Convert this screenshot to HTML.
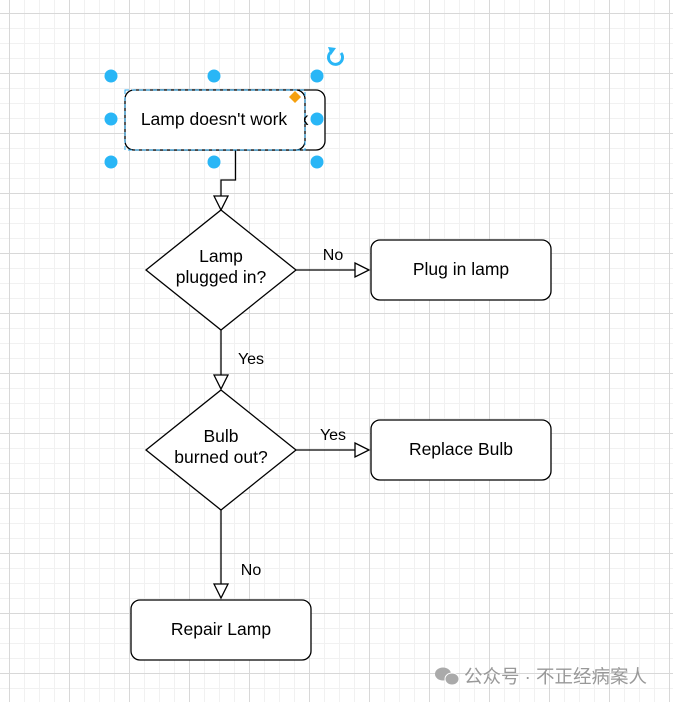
<!DOCTYPE html>
<html><head><meta charset="utf-8"><style>
html,body{margin:0;padding:0;background:#fff;}
svg{display:block;font-family:"Liberation Sans","Noto Sans CJK SC",sans-serif;}
</style></head><body>
<svg width="673" height="702" viewBox="0 0 673 702" xmlns="http://www.w3.org/2000/svg">
<defs>
<pattern id="minor" x="9" y="13" width="15" height="15" patternUnits="userSpaceOnUse">
<path d="M0 0.5H15M0.5 0V15" stroke="#f1f1f1" stroke-width="1" fill="none"/>
</pattern>
<pattern id="major" x="9" y="13" width="60" height="60" patternUnits="userSpaceOnUse">
<path d="M0 0.5H60M0.5 0V60" stroke="#d8d8d8" stroke-width="1" fill="none"/>
</pattern>
</defs>
<rect width="673" height="702" fill="url(#minor)"/>
<rect width="673" height="702" fill="url(#major)"/>
<g stroke="#000" stroke-width="1.3" fill="#fff">
<rect x="145" y="90" width="180" height="60" rx="9"/>
<rect x="125" y="90" width="180" height="60" rx="9"/>
<path d="M235.5 150V180H221V196" fill="none"/>
<path d="M221 330V375" fill="none"/>
<path d="M221 510V584" fill="none"/>
<path d="M296 270H355" fill="none"/>
<path d="M296 450H355" fill="none"/>
<path d="M214 196L221 210L228 196Z"/>
<path d="M214 375L221 389L228 375Z"/>
<path d="M214 584L221 598L228 584Z"/>
<path d="M355 263L369 270L355 277Z"/>
<path d="M355 443L369 450L355 457Z"/>
<path d="M221 210L296 270L221 330L146 270Z"/>
<path d="M221 390L296 450L221 510L146 450Z"/>
<rect x="371" y="240" width="180" height="60" rx="9"/>
<rect x="371" y="420" width="180" height="60" rx="9"/>
<rect x="131" y="600" width="180" height="60" rx="9"/>
</g>
<rect x="125" y="90" width="180" height="60" fill="none" stroke="#29a8ef" stroke-width="1" stroke-dasharray="4 3"/>
<g fill="#000" font-size="17.5" text-anchor="middle">
<text x="304" y="125">k</text>
<rect x="288" y="100" width="16" height="40" fill="#fff"/>
<text x="214" y="125">Lamp doesn't work</text>
<text x="221" y="262">Lamp</text>
<text x="221" y="283">plugged in?</text>
<text x="221" y="442">Bulb</text>
<text x="221" y="463">burned out?</text>
<text x="461" y="275">Plug in lamp</text>
<text x="461" y="455">Replace Bulb</text>
<text x="221" y="635">Repair Lamp</text>
<text x="333" y="260" font-size="16">No</text>
<text x="333" y="440" font-size="16">Yes</text>
<text x="251" y="364" font-size="16">Yes</text>
<text x="251" y="575" font-size="16">No</text>
</g>
<path d="M295 91L301 97L295 103L289 97Z" fill="#f5a00f"/>
<g fill="#29b6f6">
<circle cx="111" cy="76" r="6.5"/><circle cx="214" cy="76" r="6.5"/><circle cx="317" cy="76" r="6.5"/>
<circle cx="111" cy="119" r="6.5"/><circle cx="317" cy="119" r="6.5"/>
<circle cx="111" cy="162" r="6.5"/><circle cx="214" cy="162" r="6.5"/><circle cx="317" cy="162" r="6.5"/>
</g>
<path d="M341 53A7 7 0 1 1 331 52" fill="none" stroke="#29b6f6" stroke-width="3"/>
<path d="M328 47L336 48L331 55Z" fill="#29b6f6"/>
<g fill="#aaa">
<ellipse cx="443" cy="674" rx="8" ry="6.5"/>
<ellipse cx="452" cy="679" rx="7" ry="6" stroke="#fff" stroke-width="1"/>
</g>
<text x="464" y="683" font-size="18.5" fill="#999" font-family="'Liberation Sans','Noto Sans CJK SC',sans-serif">公众号 · 不正经病案人</text>
</svg>
</body></html>
